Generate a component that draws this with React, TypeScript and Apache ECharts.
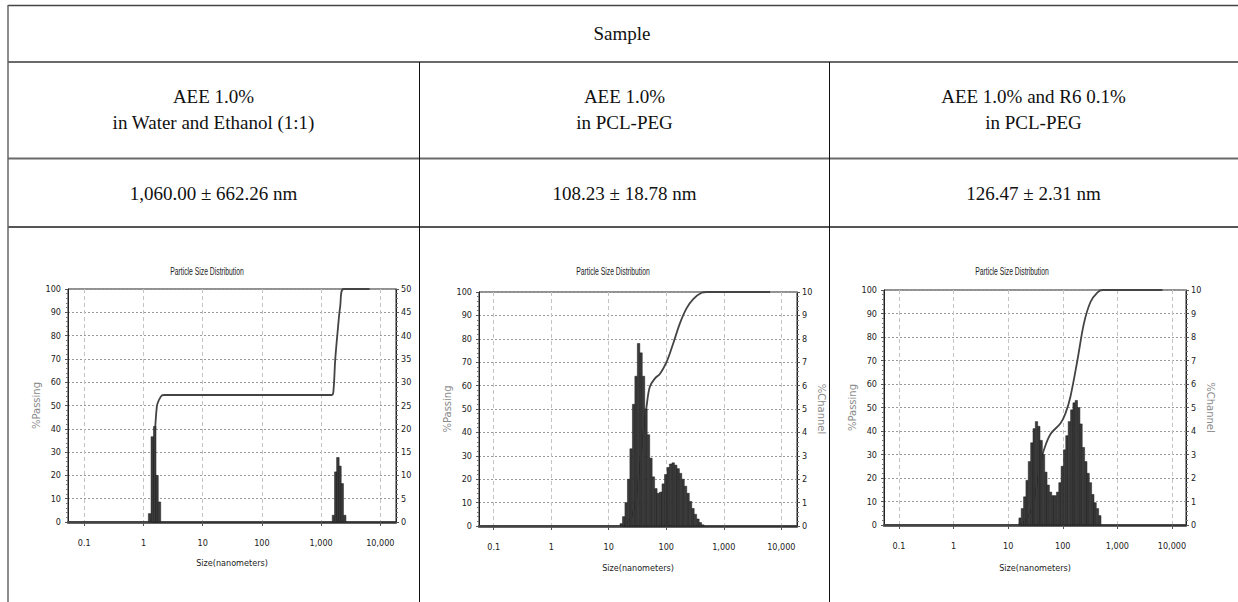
import React, { useEffect, useRef } from "react";
import * as echarts from "echarts";

// ---------------- table text ----------------
const HEADER = "Sample";
const SAMPLE_LINE1 = ["AEE 1.0%", "AEE 1.0%", "AEE 1.0% and R6 0.1%"];
const SAMPLE_LINE2 = ["in Water and Ethanol (1:1)", "in PCL-PEG", "in PCL-PEG"];
const MEAN_SIZE = ["1,060.00 ± 662.26 nm", "108.23 ± 18.78 nm", "126.47 ± 2.31 nm"];

// ---------------- chart texts ----------------
const CHART_TITLE = "Particle Size Distribution";
const X_NAME = "Size(nanometers)";
const LEFT_NAME = "%Passing";
const RIGHT_NAME = "%Channel";
const X_TICK_EXP = [-1, 0, 1, 2, 3, 4];
const X_TICK_LABELS = ["0.1", "1", "10", "100", "1,000", "10,000"];

// ---------------- data: panel 1 (Water and Ethanol) ----------------
const SIZES_1 = [1.27, 1.41, 1.55, 1.69, 1.86, 1620, 1770, 1920, 2080, 2270, 2500];
const CHANNEL_1 = [1.8, 18.3, 20.5, 10.0, 4.3, 1.45, 10.75, 13.85, 12.0, 8.25, 1.45];
const PASS_SIZE_1 = [0.0531, 1.3, 1.48, 1.68, 1.96, 2.2, 1520, 1620, 1730, 1890, 2100, 2390, 6580];
const PASS_1 = [0, 0, 25, 49.5, 53.8, 54.5, 54.5, 56.7, 69.6, 81, 92.5, 100, 100];

// ---------------- data: panel 2 (PCL-PEG) ----------------
const SIZES_2 = [16.5, 18.2, 20.1, 22.2, 24.5, 27.1, 29.9, 33.0, 36.4, 40.2, 44.4, 49.0, 54.1, 59.7, 65.9, 72.8, 80.4, 88.7, 97.9, 108, 119, 132, 146, 161, 177, 196, 216, 239, 264, 291, 321, 355, 391, 432];
const CHANNEL_2 = [0.1, 0.4, 1.0, 2.0, 3.3, 5.2, 6.4, 7.8, 7.4, 6.4, 5.0, 3.9, 2.9, 2.1, 1.6, 1.4, 1.45, 1.8, 2.2, 2.5, 2.65, 2.7, 2.6, 2.45, 2.25, 2.0, 1.7, 1.4, 1.05, 0.75, 0.5, 0.3, 0.15, 0.05];
const PASS_SIZE_2 = [0.0555, 16, 20, 25, 30, 35, 40, 45.4, 51.8, 63.2, 77.4, 101, 132, 172, 225, 294, 412, 500, 6380];
const PASS_2 = [0, 0, 1, 4, 12, 27, 40, 51, 59.5, 63, 65, 70, 78, 86.5, 93, 97, 99.7, 100, 100];

// ---------------- data: panel 3 (AEE + R6 in PCL-PEG) ----------------
const SIZES_3 = [16.5, 18.2, 20.1, 22.2, 24.5, 27.1, 29.9, 33.0, 36.4, 40.2, 44.4, 49.0, 54.1, 59.7, 65.9, 72.8, 80.4, 88.7, 97.9, 108, 119, 132, 146, 161, 177, 196, 216, 239, 264, 291, 321, 355, 391, 432, 477];
const CHANNEL_3 = [0.3, 0.7, 1.2, 1.9, 2.7, 3.5, 4.1, 4.4, 4.2, 3.6, 3.0, 2.25, 1.7, 1.4, 1.25, 1.25, 1.4, 1.8, 2.5, 3.2, 3.8, 4.4, 4.9, 5.2, 5.3, 5.0, 4.3, 3.3, 2.7, 2.2, 1.8, 1.3, 0.95, 0.7, 0.4];
const PASS_SIZE_3 = [0.0531, 15, 20, 25, 30, 35, 40, 45, 59.7, 91, 112, 138, 185, 244, 323, 429, 531, 6700];
const PASS_3 = [0, 0, 1.5, 5, 11, 20, 27, 31.9, 38.7, 43.3, 47.5, 54.6, 70, 85.8, 95, 98.9, 100, 100];

// ---------------- layout (not data) ----------------
const SERIF = "'Liberation Serif', 'DejaVu Serif', serif";
const NARROW = "'Liberation Sans Narrow', 'DejaVu Sans Condensed', 'Liberation Sans', sans-serif";
const HALF_BIN = Math.pow(10, 0.043 / 2);

const PANELS = [
  { left: 68, top: 289, width: 328, height: 233, xMin: 0.0531, xMax: 18400, rightMax: 50, rightInt: 5, titleX: 207, titleY: 271, leftGap: 24, rightName: false, rightGap: 19, xNameGap: 36,
    sizes: SIZES_1, channel: CHANNEL_1, passSize: PASS_SIZE_1, pass: PASS_1 },
  { left: 479, top: 292, width: 318, height: 234, xMin: 0.0555, xMax: 18750, rightMax: 10, rightInt: 1, titleX: 613, titleY: 271.5, leftGap: 24, rightName: true, rightGap: 19, xNameGap: 37,
    sizes: SIZES_2, channel: CHANNEL_2, passSize: PASS_SIZE_2, pass: PASS_2 },
  { left: 884, top: 290, width: 302, height: 235, xMin: 0.0531, xMax: 18070, rightMax: 10, rightInt: 1, titleX: 1012, titleY: 271, leftGap: 20, rightName: true, rightGap: 18, xNameGap: 38,
    sizes: SIZES_3, channel: CHANNEL_3, passSize: PASS_SIZE_3, pass: PASS_3 },
];

const COL_CENTERS = [213.5, 624.5, 1033.5];

function xLabel(v: number): string {
  const l = Math.log10(v);
  const e = Math.round(l);
  if (Math.abs(l - e) > 0.01) return "";
  const i = X_TICK_EXP.indexOf(e);
  return i >= 0 ? X_TICK_LABELS[i] : "";
}

function buildOption(): any {
  const grids: any[] = [];
  const xAxes: any[] = [];
  const yAxes: any[] = [];
  const series: any[] = [];
  const gfx: any[] = [];

  PANELS.forEach((p, i) => {
    grids.push({ left: p.left, top: p.top, width: p.width, height: p.height, show: true, borderColor: "#222", borderWidth: 1, backgroundColor: "transparent", containLabel: false, outerBoundsMode: "none" });
    gfx.push({ type: "text", silent: true, x: p.titleX, y: p.titleY, scaleX: 0.68, scaleY: 1,
      style: { text: CHART_TITLE, fill: "#222", font: "10px 'Liberation Sans', Arial, sans-serif", textAlign: "center", textVerticalAlign: "middle" } });
    xAxes.push({
      type: "log", logBase: 10, gridIndex: i, min: p.xMin, max: p.xMax,
      name: X_NAME, nameLocation: "middle", nameGap: p.xNameGap,
      nameTextStyle: { fontSize: 9, fontFamily: NARROW, color: "#222" },
      axisLine: { show: true, onZero: false, lineStyle: { color: "#333", width: 2.5 } },
      axisTick: { show: true, length: 4, lineStyle: { color: "#555" } },
      axisLabel: { show: true, margin: 16, fontSize: 9, fontFamily: NARROW, color: "#222", showMinLabel: false, showMaxLabel: false, formatter: xLabel },
      splitLine: { show: true, lineStyle: { color: "#c4c4c4", type: [4, 3], width: 1 } },
    });
    yAxes.push({
      type: "value", gridIndex: i, position: "left", min: 0, max: 100, interval: 10,
      name: LEFT_NAME, nameLocation: "middle", nameRotate: 90, nameGap: p.leftGap,
      nameTextStyle: { fontSize: 10, fontFamily: "'DejaVu Sans', sans-serif", color: "#8a8a8a" },
      axisLine: { show: true, lineStyle: { color: "#222", width: 1 } },
      axisTick: { show: true, length: 3, lineStyle: { color: "#555" } },
      minorTick: { show: true, splitNumber: 5, length: 2, lineStyle: { color: "#777" } },
      axisLabel: { margin: 7, fontSize: 9, fontFamily: NARROW, color: "#222" },
      splitLine: { show: true, lineStyle: { color: "#9a9a9a", type: [2, 2], width: 1 } },
    });
    yAxes.push({
      type: "value", gridIndex: i, position: "right", min: 0, max: p.rightMax, interval: p.rightInt,
      name: p.rightName ? RIGHT_NAME : "", nameLocation: "middle", nameRotate: -90, nameGap: p.rightGap,
      nameTextStyle: { fontSize: 10, fontFamily: "'DejaVu Sans', sans-serif", color: "#8a8a8a" },
      axisLine: { show: true, lineStyle: { color: "#222", width: 1 } },
      axisTick: { show: true, length: 3, lineStyle: { color: "#555" } },
      minorTick: { show: true, splitNumber: 5, length: 2, lineStyle: { color: "#777" } },
      axisLabel: { margin: 5, fontSize: 9, fontFamily: NARROW, color: "#222" },
      splitLine: { show: false },
    });
    series.push({
      type: "line", xAxisIndex: i, yAxisIndex: 2 * i, z: 2,
      data: p.passSize.map((s, k) => [s, p.pass[k]]),
      smooth: 0.35, showSymbol: false, symbol: "none",
      lineStyle: { color: "#444", width: 1.8 },
    });
    series.push({
      type: "custom", xAxisIndex: i, yAxisIndex: 2 * i + 1, z: 3,
      data: p.sizes.map((s, k) => [s, p.channel[k]]),
      renderItem: (params: any, api: any) => {
        const s = api.value(0) as number;
        const v = api.value(1) as number;
        const a = api.coord([s / HALF_BIN, v]);
        const b = api.coord([s * HALF_BIN, 0]);
        return {
          type: "rect",
          shape: { x: a[0], y: a[1], width: b[0] - a[0], height: b[1] - a[1] },
          style: { fill: "#3b3b3b", stroke: "#1c1c1c", lineWidth: 0.5 },
        };
      },
    });
  });

  const hl = (y: number, color: string, w: number) => gfx.push({ type: "line", silent: true, shape: { x1: 8, y1: y, x2: 1238, y2: y }, style: { stroke: color, lineWidth: w } });
  const vl = (x: number, y1: number, y2: number, color: string, w: number) => gfx.push({ type: "line", silent: true, shape: { x1: x, y1, x2: x, y2 }, style: { stroke: color, lineWidth: w } });
  hl(5.5, "#444", 1.5);
  hl(62, "#6a6a6a", 2);
  hl(158.5, "#6a6a6a", 2);
  hl(227, "#555", 2);
  vl(8, 5, 602, "#666", 1.5);
  vl(419.5, 62, 602, "#111", 1);
  vl(829.5, 62, 602, "#111", 1);

  const txt = (x: number, y: number, s: string) => gfx.push({ type: "text", silent: true, x, y,
    style: { text: s, fill: "#111", font: `19px ${SERIF}`, textAlign: "center", textVerticalAlign: "middle" } });
  txt(622, 33, HEADER);
  COL_CENTERS.forEach((cx, i) => {
    txt(cx, 96, SAMPLE_LINE1[i]);
    txt(cx, 122, SAMPLE_LINE2[i]);
    txt(cx, 193, MEAN_SIZE[i]);
  });

  return {
    animation: false,
    backgroundColor: "#ffffff",
    grid: grids,
    xAxis: xAxes,
    yAxis: yAxes,
    series,
    graphic: gfx,
  };
}

export default function App() {
  const ref = useRef<HTMLDivElement | null>(null);
  useEffect(() => {
    if (!ref.current) return;
    const chart = echarts.init(ref.current, undefined, { renderer: "svg" });
    chart.setOption(buildOption());
    return () => chart.dispose();
  }, []);
  return (
    <div
      ref={ref}
      style={{ position: "fixed", left: 0, top: 0, width: 1238, height: 602, background: "#fff" }}
    />
  );
}
